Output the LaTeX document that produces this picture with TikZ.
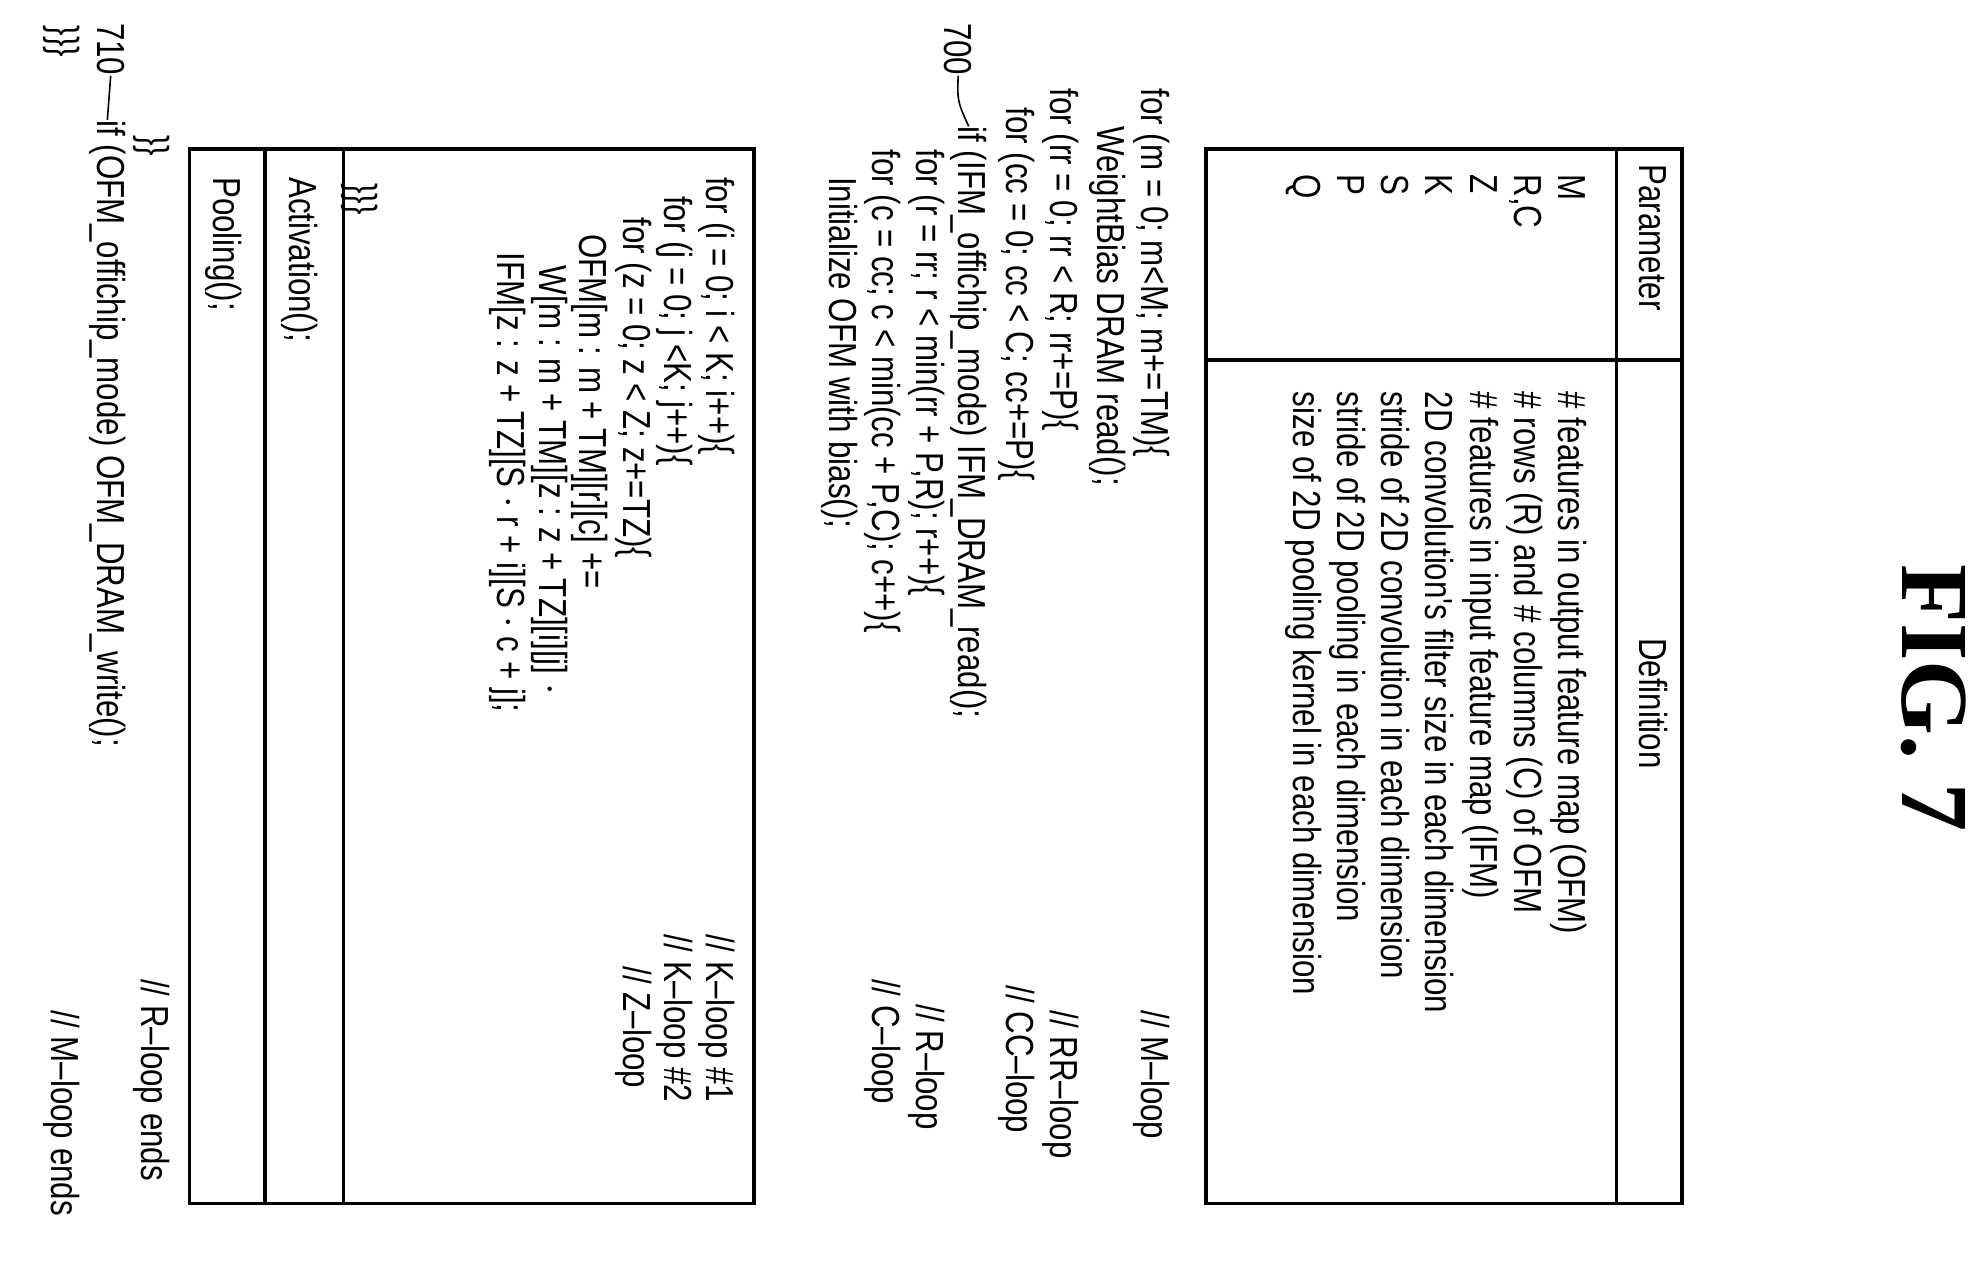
\documentclass[tikz,border=0pt]{standalone}
\usepackage{fontspec}
\newfontfamily\cf[FakeStretch=0.8]{Liberation Sans}
\newfontfamily\ff{Liberation Serif}
\begin{document}
\begin{tikzpicture}[x=0.63pt,y=0.63pt,
  t/.style={rotate=-90,anchor=base west,inner sep=0pt,font=\cf\fontsize{19.5}{21}\selectfont},
  frame/.style={draw,line width=1.8pt}]
\useasboundingbox (0,0) rectangle (1563,-1000);
\node[rotate=-90,anchor=base,inner sep=0pt,font=\ff\bfseries\fontsize{48}{50}\selectfont] (fig) at (1506,-553) {FIG. 7};
% table
\draw[frame] (955,-118) rectangle (1332,-953);
\draw[frame] (1280,-118) -- (1280,-953);
\draw[frame] (955,-285) -- (1332,-285);
\node[t] (hp) at (1298,-130) {Parameter};
\node[t] (hd) at (1298,-505) {Definition};
\foreach \p/\d [count=\i] in {M/\# features in output feature map (OFM),
  {R,C}/\# rows (R) and \# columns (C) of OFM,
  Z/\# features in input feature map (IFM),
  K/2D convolution's filter size in each dimension,
  S/stride of 2D convolution in each dimension,
  P/stride of 2D pooling in each dimension,
  Q/size of 2D pooling kernel in each dimension}{
  \node[t] (p\i) at ({1234-35*(\i-1)},-138) {\p};
  \node[t] (d\i) at ({1234-35*(\i-1)},-310) {\d};
}
% code above box
\node[t] (c1) at (904,-70) {for (m = 0; m<M; m+=TM)\{};
\node[t] (k1) at (904,-800) {// M\textendash loop};
\node[t] (c2) at (869,-100) {WeightBias DRAM read();};
\node[t] (c3) at (832,-70) {for (rr = 0; rr < R; rr+=P)\{};
\node[t] (k3) at (832,-800) {// RR\textendash loop};
\node[t] (c4) at (797,-85) {for (cc = 0; cc < C; cc+=P)\{};
\node[t] (k4) at (797,-780) {// CC\textendash loop};
\node[t] (c5) at (759,-100) {if (IFM\_offichip\_mode) IFM\_DRAM\_read();};
\node[t] (c6) at (726,-118) {for (r = rr; r < min(rr + P,R); r++)\{};
\node[t] (k6) at (726,-795) {// R\textendash loop};
\node[t] (c7) at (691,-118) {for (c = cc; c < min(cc + P,C); c++)\{};
\node[t] (k7) at (691,-775) {// C\textendash loop};
\node[t] (c8) at (657,-140) {Initialize OFM with bias();};
\node[t] (l700) at (748,-18) {700};
\draw[line width=0.8pt] (l700.east) .. controls (758,-80) .. (c5.west);
% box
\draw[frame] (150,-118) rectangle (597,-953);
\draw[frame] (272,-118) -- (272,-953);
\draw[frame] (210,-118) -- (210,-953);
\node[t] (b1) at (559,-140) {for (i = 0; i < K; i++)\{};
\node[t] (q1) at (559,-740) {// K\textendash loop \#1};
\node[t] (b2) at (526,-155) {for (j = 0; j <K; j++)\{};
\node[t] (q2) at (526,-740) {// K\textendash loop \#2};
\node[t] (b3) at (494,-172) {for (z = 0; z < Z; z+=TZ)\{};
\node[t] (q3) at (494,-765) {// Z\textendash loop};
\node[t] (b4) at (459,-185) {OFM[m : m + TM][r][c] +=};
\node[t] (b5) at (427,-210) {W[m : m + TM][z : z + TZ][i][j] $\cdot$};
\node[t] (b6) at (394,-200) {IFM[z : z + TZ][S $\cdot$ r + i][S $\cdot$ c + j];};
\node[t] (b7) at (277,-145) {\}\}\}};
\node[t] (b8) at (229,-140) {Activation();};
\node[t] (b9) at (169,-140) {Pooling();};
% after box
\node[t] (e1) at (112,-107) {\}\}};
\node[t] (f1) at (112,-775) {// R\textendash loop ends};
\node[t] (e2) at (77,-95) {if (OFM\_offichip\_mode) OFM\_DRAM\_write();};
\node[t] (l710) at (77,-18) {710};
\draw[line width=0.8pt] (l710.east) -- (e2.west);
\node[t] (e3) at (41,-20) {\}\}\}};
\node[t] (f3) at (41,-800) {// M\textendash loop ends};
\end{tikzpicture}
\end{document}
